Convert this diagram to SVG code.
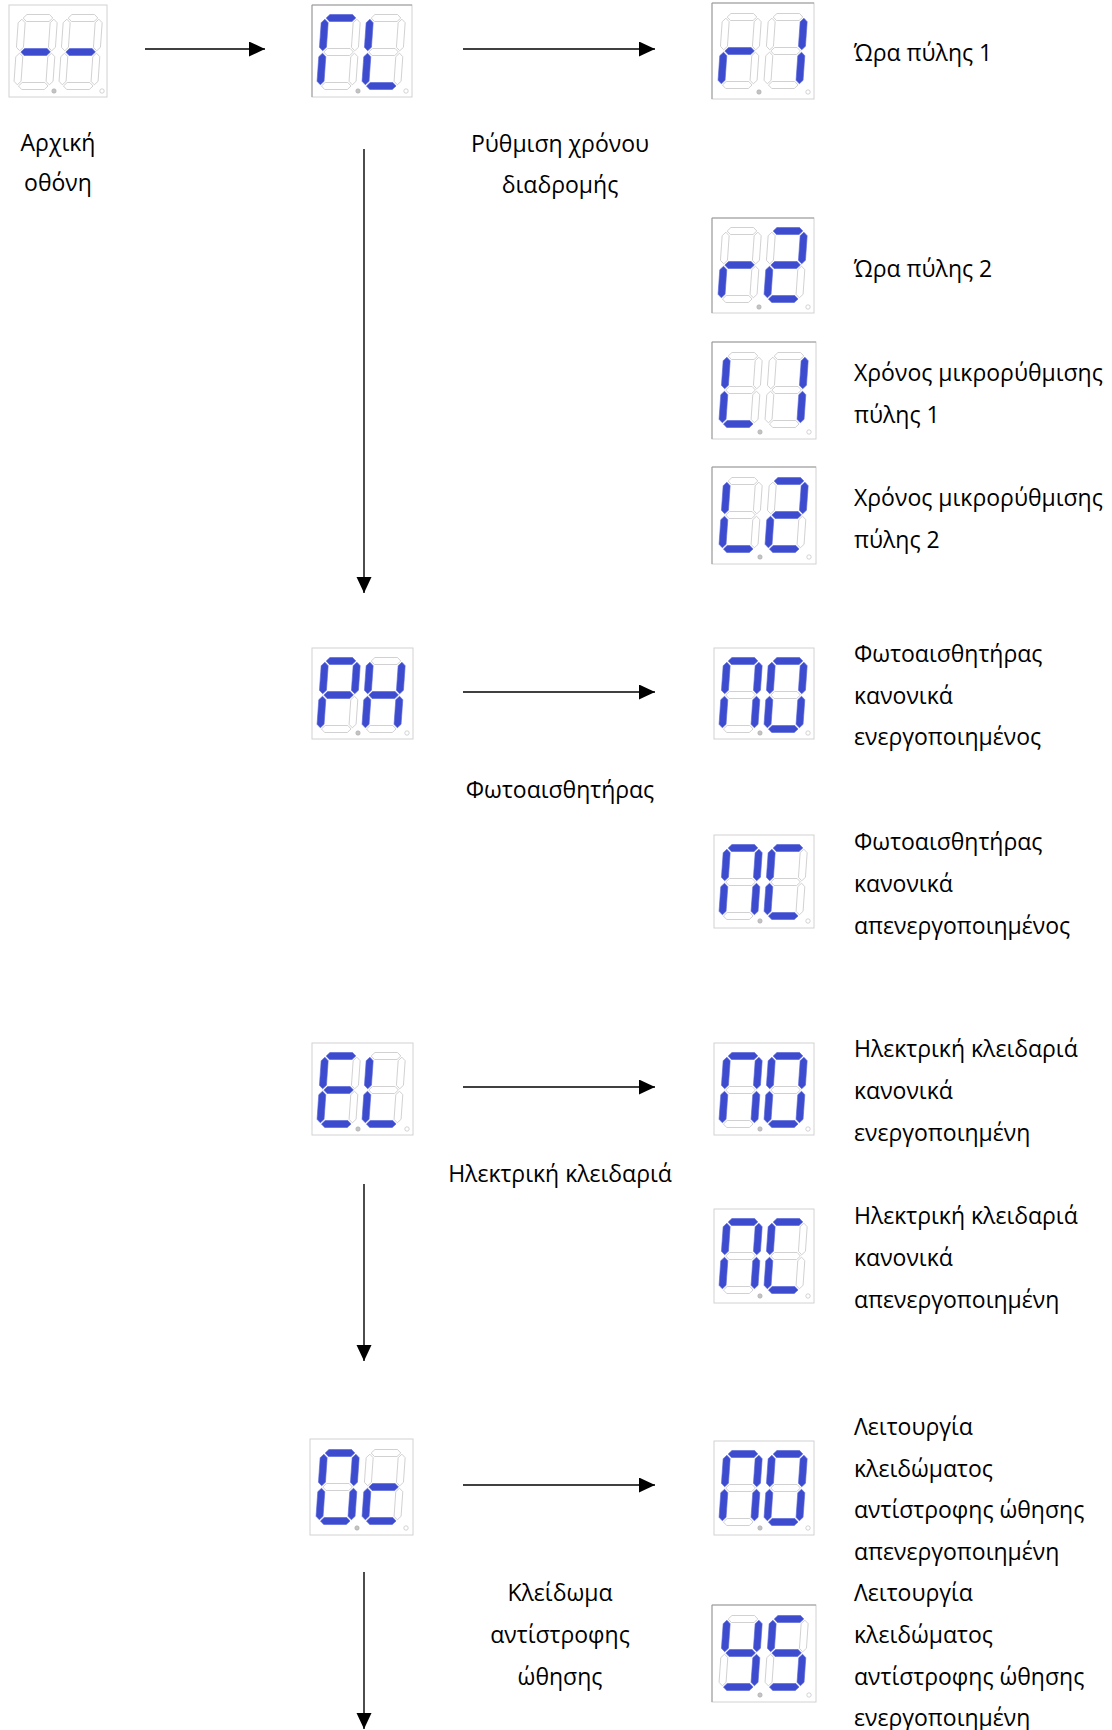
<svg xmlns="http://www.w3.org/2000/svg" xmlns:xlink="http://www.w3.org/1999/xlink" width="1112" height="1730" viewBox="0 0 1112 1730">
<style>
  .box { fill: #ffffff; stroke: #d2d2d2; stroke-width: 1; }
  .edge { stroke: #9a9a9a; stroke-width: 1; fill: none; }
  .on { fill: #3d4ccf; stroke: #5663d8; stroke-width: 0.6; }
  .off { fill: #ffffff; stroke: #cdcdcd; stroke-width: 0.9; }
  .dp1 { fill: #c4c4c4; stroke: #aaaaaa; stroke-width: 0.6; }
  .dp2 { fill: #ffffff; stroke: #c8c8c8; stroke-width: 0.8; }
  .lbl { font-family: "Open Sans", "Noto Sans", "DejaVu Sans", sans-serif; font-size: 23px; fill: #000000; }
  .mid { text-anchor: middle; }
  .conn { stroke: #000000; stroke-width: 1.4; fill: none; }
</style>
<defs>
  <marker id="ah" markerUnits="userSpaceOnUse" markerWidth="17" markerHeight="16" refX="16" refY="7.5" orient="auto">
    <path d="M0,0 L16,7.5 L0,15 Z" fill="#000000"/>
  </marker>
  <path id="sh" d="M1.2,0 L4.7,-3.5 L27.3,-3.5 L30.8,0 L27.3,3.5 L4.7,3.5 Z"/>
  <path id="sv" d="M0,1.2 L3.5,4.7 L3.5,29.3 L0,32.8 L-3.5,29.3 L-3.5,4.7 Z"/>
  <g id="g-dash" transform="skewX(-4)">
    <use href="#sh" class="off"/><use href="#sv" x="32" class="off"/><use href="#sv" x="32" y="34" class="off"/><use href="#sh" y="68" class="off"/><use href="#sv" y="34" class="off"/><use href="#sv" class="off"/><use href="#sh" y="34" class="on"/>
  </g>
  <g id="g-G" transform="skewX(-4)">
    <use href="#sh" class="on"/><use href="#sv" x="32" class="off"/><use href="#sv" x="32" y="34" class="off"/><use href="#sh" y="68" class="off"/><use href="#sv" y="34" class="on"/><use href="#sv" class="on"/><use href="#sh" y="34" class="off"/>
  </g>
  <g id="g-L" transform="skewX(-4)">
    <use href="#sh" class="off"/><use href="#sv" x="32" class="off"/><use href="#sv" x="32" y="34" class="off"/><use href="#sh" y="68" class="on"/><use href="#sv" y="34" class="on"/><use href="#sv" class="on"/><use href="#sh" y="34" class="off"/>
  </g>
  <g id="g-r" transform="skewX(-4)">
    <use href="#sh" class="off"/><use href="#sv" x="32" class="off"/><use href="#sv" x="32" y="34" class="off"/><use href="#sh" y="68" class="off"/><use href="#sv" y="34" class="on"/><use href="#sv" class="off"/><use href="#sh" y="34" class="on"/>
  </g>
  <g id="g-1" transform="skewX(-4)">
    <use href="#sh" class="off"/><use href="#sv" x="32" class="on"/><use href="#sv" x="32" y="34" class="on"/><use href="#sh" y="68" class="off"/><use href="#sv" y="34" class="off"/><use href="#sv" class="off"/><use href="#sh" y="34" class="off"/>
  </g>
  <g id="g-2" transform="skewX(-4)">
    <use href="#sh" class="on"/><use href="#sv" x="32" class="on"/><use href="#sv" x="32" y="34" class="off"/><use href="#sh" y="68" class="on"/><use href="#sv" y="34" class="on"/><use href="#sv" class="off"/><use href="#sh" y="34" class="on"/>
  </g>
  <g id="g-P" transform="skewX(-4)">
    <use href="#sh" class="on"/><use href="#sv" x="32" class="on"/><use href="#sv" x="32" y="34" class="off"/><use href="#sh" y="68" class="off"/><use href="#sv" y="34" class="on"/><use href="#sv" class="on"/><use href="#sh" y="34" class="on"/>
  </g>
  <g id="g-H" transform="skewX(-4)">
    <use href="#sh" class="off"/><use href="#sv" x="32" class="on"/><use href="#sv" x="32" y="34" class="on"/><use href="#sh" y="68" class="off"/><use href="#sv" y="34" class="on"/><use href="#sv" class="on"/><use href="#sh" y="34" class="on"/>
  </g>
  <g id="g-n" transform="skewX(-4)">
    <use href="#sh" class="on"/><use href="#sv" x="32" class="on"/><use href="#sv" x="32" y="34" class="on"/><use href="#sh" y="68" class="off"/><use href="#sv" y="34" class="on"/><use href="#sv" class="on"/><use href="#sh" y="34" class="off"/>
  </g>
  <g id="g-0" transform="skewX(-4)">
    <use href="#sh" class="on"/><use href="#sv" x="32" class="on"/><use href="#sv" x="32" y="34" class="on"/><use href="#sh" y="68" class="on"/><use href="#sv" y="34" class="on"/><use href="#sv" class="on"/><use href="#sh" y="34" class="off"/>
  </g>
  <g id="g-C" transform="skewX(-4)">
    <use href="#sh" class="on"/><use href="#sv" x="32" class="off"/><use href="#sv" x="32" y="34" class="off"/><use href="#sh" y="68" class="on"/><use href="#sv" y="34" class="on"/><use href="#sv" class="on"/><use href="#sh" y="34" class="off"/>
  </g>
  <g id="g-E" transform="skewX(-4)">
    <use href="#sh" class="on"/><use href="#sv" x="32" class="off"/><use href="#sv" x="32" y="34" class="off"/><use href="#sh" y="68" class="on"/><use href="#sv" y="34" class="on"/><use href="#sv" class="on"/><use href="#sh" y="34" class="on"/>
  </g>
  <g id="g-c" transform="skewX(-4)">
    <use href="#sh" class="off"/><use href="#sv" x="32" class="off"/><use href="#sv" x="32" y="34" class="off"/><use href="#sh" y="68" class="on"/><use href="#sv" y="34" class="on"/><use href="#sv" class="off"/><use href="#sh" y="34" class="on"/>
  </g>
  <g id="g-y" transform="skewX(-4)">
    <use href="#sh" class="off"/><use href="#sv" x="32" class="on"/><use href="#sv" x="32" y="34" class="on"/><use href="#sh" y="68" class="on"/><use href="#sv" y="34" class="off"/><use href="#sv" class="on"/><use href="#sh" y="34" class="on"/>
  </g>
  <g id="g-S" transform="skewX(-4)">
    <use href="#sh" class="on"/><use href="#sv" x="32" class="off"/><use href="#sv" x="32" y="34" class="on"/><use href="#sh" y="68" class="on"/><use href="#sv" y="34" class="off"/><use href="#sv" class="on"/><use href="#sh" y="34" class="on"/>
  </g>
</defs>

<rect width="1112" height="1730" fill="#ffffff"/>

<g id="connectors">
  <line class="conn" x1="145" y1="49" x2="265" y2="49" marker-end="url(#ah)"/>
  <line class="conn" x1="463" y1="49" x2="655" y2="49" marker-end="url(#ah)"/>
  <line class="conn" x1="364" y1="149" x2="364" y2="593" marker-end="url(#ah)"/>
  <line class="conn" x1="463" y1="692" x2="655" y2="692" marker-end="url(#ah)"/>
  <line class="conn" x1="463" y1="1087" x2="655" y2="1087" marker-end="url(#ah)"/>
  <line class="conn" x1="364" y1="1184" x2="364" y2="1361" marker-end="url(#ah)"/>
  <line class="conn" x1="463" y1="1485" x2="655" y2="1485" marker-end="url(#ah)"/>
  <line class="conn" x1="364" y1="1572" x2="364" y2="1729" marker-end="url(#ah)"/>
</g>

<g id="n-initial" transform="translate(9,5)">
  <rect class="box" width="98" height="92"/>
  <use href="#g-dash" x="13" y="13"/><use href="#g-dash" x="58" y="13"/>
  <circle class="dp1" cx="45" cy="86" r="2.2"/><circle class="dp2" cx="93" cy="86" r="2.2"/>
  <text class="lbl mid" x="49" y="146">Αρχική</text>
  <text class="lbl mid" x="49" y="186">οθόνη</text>
</g>

<g id="n-rL" transform="translate(312,5)">
  <rect class="box" width="100" height="92"/>
  <path class="edge" d="M0,92 V0 H100"/>
  <use href="#g-G" x="13" y="13"/><use href="#g-L" x="58" y="13"/>
  <circle class="dp1" cx="46" cy="86" r="2.2"/><circle class="dp2" cx="94" cy="86" r="2.2"/>
</g>
<g id="t-rL">
  <text class="lbl mid" x="560" y="152">Ρύθμιση χρόνου</text>
  <text class="lbl mid" x="560" y="193">διαδρομής</text>
</g>

<g id="n-r1" transform="translate(712,3)">
  <rect class="box" width="102" height="96"/>
  <path class="edge" d="M0,96 V0 H102"/>
  <use href="#g-r" x="14" y="14"/><use href="#g-1" x="60" y="14"/>
  <circle class="dp1" cx="47" cy="89" r="2.2"/><circle class="dp2" cx="96" cy="89" r="2.2"/>
  <text class="lbl" x="142" y="58">Ώρα πύλης 1</text>
</g>

<g id="n-r2" transform="translate(712,218)">
  <rect class="box" width="102" height="95"/>
  <path class="edge" d="M0,95 V0 H102"/>
  <use href="#g-r" x="14" y="13"/><use href="#g-2" x="60" y="13"/>
  <circle class="dp1" cx="47" cy="89" r="2.2"/><circle class="dp2" cx="96" cy="89" r="2.2"/>
  <text class="lbl" x="142" y="59">Ώρα πύλης 2</text>
</g>

<g id="n-t1" transform="translate(712,342)">
  <rect class="box" width="104" height="97"/>
  <path class="edge" d="M0,97 V0 H104"/>
  <use href="#g-L" x="15" y="14"/><use href="#g-1" x="61" y="14"/>
  <circle class="dp1" cx="48" cy="90" r="2.2"/><circle class="dp2" cx="97" cy="90" r="2.2"/>
  <text class="lbl" x="142" y="39">Χρόνος μικρορύθμισης</text>
  <text class="lbl" x="142" y="81">πύλης 1</text>
</g>

<g id="n-t2" transform="translate(712,467)">
  <rect class="box" width="104" height="97"/>
  <path class="edge" d="M0,97 V0 H104"/>
  <use href="#g-L" x="15" y="14"/><use href="#g-2" x="61" y="14"/>
  <circle class="dp1" cx="48" cy="90" r="2.2"/><circle class="dp2" cx="97" cy="90" r="2.2"/>
  <text class="lbl" x="142" y="39">Χρόνος μικρορύθμισης</text>
  <text class="lbl" x="142" y="81">πύλης 2</text>
</g>

<g id="n-PH" transform="translate(312,648)">
  <rect class="box" width="101" height="91"/>
  <use href="#g-P" x="13" y="13"/><use href="#g-H" x="58" y="13"/>
  <circle class="dp1" cx="46" cy="85" r="2.2"/><circle class="dp2" cx="95" cy="85" r="2.2"/>
</g>
<text id="t-PH" class="lbl mid" x="560" y="798">Φωτοαισθητήρας</text>

<g id="n-PH-no" transform="translate(714,648)">
  <rect class="box" width="100" height="91"/>
  <use href="#g-n" x="13" y="13"/><use href="#g-0" x="58" y="13"/>
  <circle class="dp1" cx="46" cy="85" r="2.2"/><circle class="dp2" cx="94" cy="85" r="2.2"/>
  <text class="lbl" x="140" y="14">Φωτοαισθητήρας</text>
  <text class="lbl" x="140" y="56">κανονικά</text>
  <text class="lbl" x="140" y="97">ενεργοποιημένος</text>
</g>

<g id="n-PH-nc" transform="translate(714,835)">
  <rect class="box" width="100" height="93"/>
  <use href="#g-n" x="13" y="13"/><use href="#g-C" x="58" y="13"/>
  <circle class="dp1" cx="46" cy="86" r="2.2"/><circle class="dp2" cx="94" cy="86" r="2.2"/>
  <text class="lbl" x="140" y="15">Φωτοαισθητήρας</text>
  <text class="lbl" x="140" y="57">κανονικά</text>
  <text class="lbl" x="140" y="99">απενεργοποιημένος</text>
</g>

<g id="n-EL" transform="translate(312,1043)">
  <rect class="box" width="101" height="92"/>
  <use href="#g-E" x="13" y="13"/><use href="#g-L" x="58" y="13"/>
  <circle class="dp1" cx="46" cy="86" r="2.2"/><circle class="dp2" cx="95" cy="86" r="2.2"/>
</g>
<text id="t-EL" class="lbl mid" x="560" y="1182">Ηλεκτρική κλειδαριά</text>

<g id="n-EL-no" transform="translate(714,1043)">
  <rect class="box" width="100" height="92"/>
  <use href="#g-n" x="13" y="13"/><use href="#g-0" x="58" y="13"/>
  <circle class="dp1" cx="46" cy="86" r="2.2"/><circle class="dp2" cx="94" cy="86" r="2.2"/>
  <text class="lbl" x="140" y="14">Ηλεκτρική κλειδαριά</text>
  <text class="lbl" x="140" y="56">κανονικά</text>
  <text class="lbl" x="140" y="98">ενεργοποιημένη</text>
</g>

<g id="n-EL-nc" transform="translate(714,1209)">
  <rect class="box" width="100" height="94"/>
  <use href="#g-n" x="13" y="13"/><use href="#g-C" x="58" y="13"/>
  <circle class="dp1" cx="46" cy="87" r="2.2"/><circle class="dp2" cx="94" cy="87" r="2.2"/>
  <text class="lbl" x="140" y="15">Ηλεκτρική κλειδαριά</text>
  <text class="lbl" x="140" y="57">κανονικά</text>
  <text class="lbl" x="140" y="99">απενεργοποιημένη</text>
</g>

<g id="n-Oc" transform="translate(310,1439)">
  <rect class="box" width="103" height="96"/>
  <use href="#g-0" x="14" y="14"/><use href="#g-c" x="60" y="14"/>
  <circle class="dp1" cx="47" cy="89" r="2.2"/><circle class="dp2" cx="96" cy="89" r="2.2"/>
</g>
<g id="t-Oc">
  <text class="lbl mid" x="560" y="1601">Κλείδωμα</text>
  <text class="lbl mid" x="560" y="1643">αντίστροφης</text>
  <text class="lbl mid" x="560" y="1685">ώθησης</text>
</g>

<g id="n-Oc-no" transform="translate(714,1441)">
  <rect class="box" width="100" height="94"/>
  <use href="#g-n" x="13" y="13"/><use href="#g-0" x="58" y="13"/>
  <circle class="dp1" cx="46" cy="87" r="2.2"/><circle class="dp2" cx="94" cy="87" r="2.2"/>
  <text class="lbl" x="140" y="-6">Λειτουργία</text>
  <text class="lbl" x="140" y="36">κλειδώματος</text>
  <text class="lbl" x="140" y="77">αντίστροφης ώθησης</text>
  <text class="lbl" x="140" y="119">απενεργοποιημένη</text>
</g>

<g id="n-Oc-yS" transform="translate(712,1605)">
  <rect class="box" width="104" height="97"/>
  <path class="edge" d="M0,97 V0 H104"/>
  <use href="#g-y" x="15" y="14"/><use href="#g-S" x="61" y="14"/>
  <circle class="dp1" cx="48" cy="90" r="2.2"/><circle class="dp2" cx="97" cy="90" r="2.2"/>
  <text class="lbl" x="142" y="-4">Λειτουργία</text>
  <text class="lbl" x="142" y="38">κλειδώματος</text>
  <text class="lbl" x="142" y="80">αντίστροφης ώθησης</text>
  <text class="lbl" x="142" y="121">ενεργοποιημένη</text>
</g>
</svg>
